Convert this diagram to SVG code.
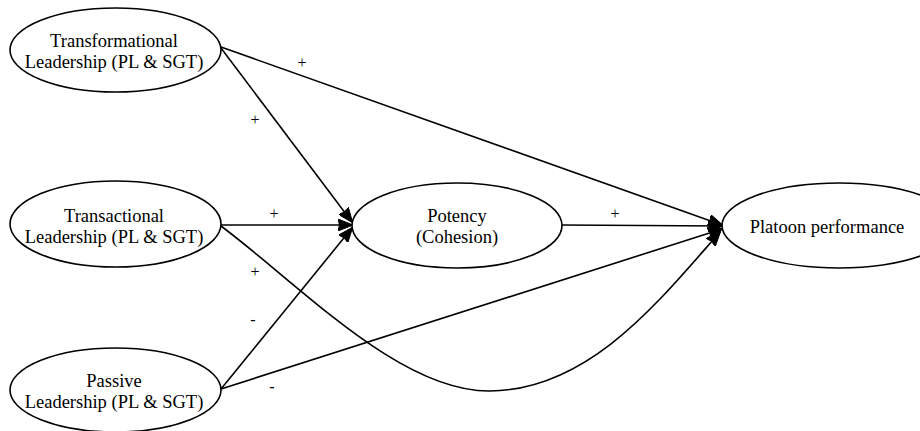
<svg xmlns="http://www.w3.org/2000/svg" width="920" height="431" viewBox="0 0 920 431">
<style>
.node ellipse{fill:#fff;stroke:#000;stroke-width:1.6}
.node text{font-family:'Liberation Serif','DejaVu Serif','Times New Roman',serif;font-size:18.5px;fill:#000;text-anchor:middle}
.edge{fill:none;stroke:#000;stroke-width:1.6;marker-end:url(#ah)}
.lbl{font-family:'Liberation Serif','DejaVu Serif','Times New Roman',serif;font-size:16px;fill:#000;text-anchor:middle}
</style>
<defs>
<marker id="ah" markerUnits="userSpaceOnUse" markerWidth="15" markerHeight="12" refX="14" refY="6" orient="auto">
<path d="M0,0 L15,6 L0,12 L1.5,6 z" fill="#000" stroke="#000" stroke-width="1"/>
</marker>
</defs>
<rect width="920" height="431" fill="#fff"/>
<g id="connectors">
<path class="edge" d="M221,48 L352,222"/>
<path class="edge" d="M221,47 L722,225"/>
<path class="edge" d="M221,225 L352,225"/>
<path class="edge" d="M221,226 C300,285 400,392 490,391 C590,390 660,300 720,232"/>
<path class="edge" d="M221,389 L352,228"/>
<path class="edge" d="M221,389 L722,229"/>
<path class="edge" d="M562,225 L722,226"/>
<text class="lbl" x="302" y="68">+</text>
<text class="lbl" x="255" y="125">+</text>
<text class="lbl" x="274" y="219">+</text>
<text class="lbl" x="615" y="219">+</text>
<text class="lbl" x="255" y="277">+</text>
<text class="lbl" x="253" y="325">-</text>
<text class="lbl" x="272" y="392">-</text>
</g>
<g id="transformational" class="node">
<ellipse cx="115.5" cy="50" rx="105.5" ry="42"/>
<text x="114" y="47">Transformational</text>
<text x="114" y="68">Leadership (PL &amp; SGT)</text>
</g>
<g id="transactional" class="node">
<ellipse cx="115.5" cy="224" rx="105.5" ry="43"/>
<text x="114" y="222">Transactional</text>
<text x="114" y="243">Leadership (PL &amp; SGT)</text>
</g>
<g id="passive" class="node">
<ellipse cx="115.5" cy="390" rx="105.5" ry="42"/>
<text x="114" y="387">Passive</text>
<text x="114" y="408">Leadership (PL &amp; SGT)</text>
</g>
<g id="potency" class="node">
<ellipse cx="457" cy="225.5" rx="105" ry="42.5"/>
<text x="457" y="222">Potency</text>
<text x="457" y="243">(Cohesion)</text>
</g>
<g id="platoon" class="node">
<ellipse cx="839" cy="225.5" rx="117" ry="42.5"/>
<text x="827" y="233">Platoon performance</text>
</g>
</svg>
